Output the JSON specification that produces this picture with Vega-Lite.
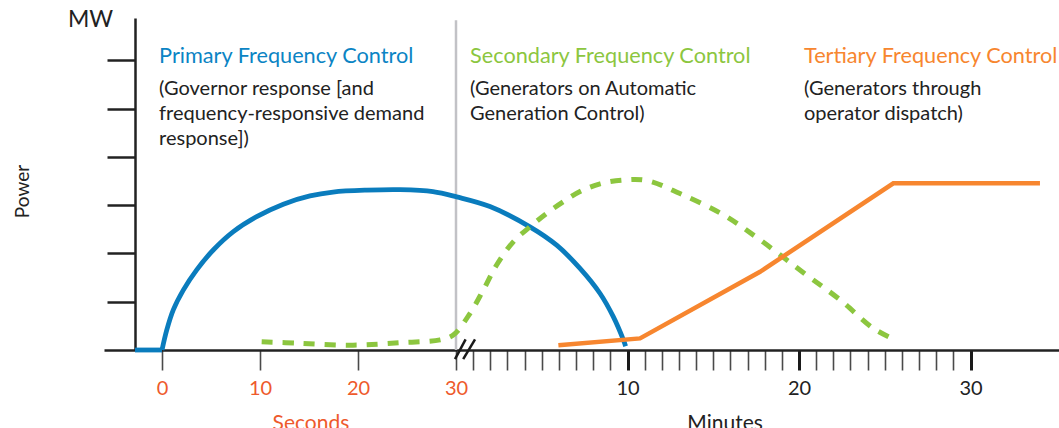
{
  "$schema": "https://vega.github.io/schema/vega-lite/v6.json",
  "autosize": "none",
  "width": 955,
  "height": 332,
  "padding": {"left": 104, "top": 18, "right": 0, "bottom": 78},
  "background": "white",
  "config": {"view": {"stroke": null}, "font": "Lato", "axis": {"labelOverlap": false, "labelFlush": false}},
  "datasets": {
    "lines": [
      {"series": "primary", "seg": "a", "x": -2.76, "y": 0},
      {"series": "primary", "seg": "a", "x": 0, "y": 0},
      {"series": "primary", "seg": "b", "x": 0, "y": 0},
      {"series": "primary", "seg": "b", "x": 0.48, "y": 0.41},
      {"series": "primary", "seg": "b", "x": 1.15, "y": 0.83},
      {"series": "primary", "seg": "b", "x": 2.17, "y": 1.24},
      {"series": "primary", "seg": "b", "x": 3.54, "y": 1.66},
      {"series": "primary", "seg": "b", "x": 5.23, "y": 2.07},
      {"series": "primary", "seg": "b", "x": 7.28, "y": 2.45},
      {"series": "primary", "seg": "b", "x": 9.66, "y": 2.76},
      {"series": "primary", "seg": "b", "x": 12.38, "y": 3.02},
      {"series": "primary", "seg": "b", "x": 15.1, "y": 3.19},
      {"series": "primary", "seg": "b", "x": 17.45, "y": 3.27},
      {"series": "primary", "seg": "b", "x": 20.89, "y": 3.31},
      {"series": "primary", "seg": "b", "x": 24.29, "y": 3.32},
      {"series": "primary", "seg": "b", "x": 27.65, "y": 3.28},
      {"series": "primary", "seg": "b", "x": 30.04, "y": 3.17},
      {"series": "primary", "seg": "b", "x": 31.98, "y": 2.97},
      {"series": "primary", "seg": "b", "x": 34.31, "y": 2.55},
      {"series": "primary", "seg": "b", "x": 35.87, "y": 2.17},
      {"series": "primary", "seg": "b", "x": 37.23, "y": 1.69},
      {"series": "primary", "seg": "b", "x": 38.4, "y": 1.17},
      {"series": "primary", "seg": "b", "x": 39.17, "y": 0.69},
      {"series": "primary", "seg": "b", "x": 39.76, "y": 0.21},
      {"series": "primary", "seg": "b", "x": 39.89, "y": 0.08},
      {"series": "secondary", "seg": "a", "x": 10.17, "y": 0.17},
      {"series": "secondary", "seg": "a", "x": 14.08, "y": 0.14},
      {"series": "secondary", "seg": "a", "x": 19.49, "y": 0.1},
      {"series": "secondary", "seg": "a", "x": 24.29, "y": 0.15},
      {"series": "secondary", "seg": "a", "x": 28.37, "y": 0.21},
      {"series": "secondary", "seg": "a", "x": 29.72, "y": 0.31},
      {"series": "secondary", "seg": "a", "x": 30.82, "y": 0.76},
      {"series": "secondary", "seg": "a", "x": 31.59, "y": 1.24},
      {"series": "secondary", "seg": "a", "x": 32.37, "y": 1.76},
      {"series": "secondary", "seg": "a", "x": 33.34, "y": 2.24},
      {"series": "secondary", "seg": "a", "x": 34.31, "y": 2.55},
      {"series": "secondary", "seg": "a", "x": 35.29, "y": 2.83},
      {"series": "secondary", "seg": "a", "x": 36.26, "y": 3.07},
      {"series": "secondary", "seg": "a", "x": 37.23, "y": 3.28},
      {"series": "secondary", "seg": "a", "x": 38.4, "y": 3.44},
      {"series": "secondary", "seg": "a", "x": 39.76, "y": 3.52},
      {"series": "secondary", "seg": "a", "x": 41.12, "y": 3.51},
      {"series": "secondary", "seg": "a", "x": 43.06, "y": 3.24},
      {"series": "secondary", "seg": "a", "x": 45.59, "y": 2.8},
      {"series": "secondary", "seg": "a", "x": 47.73, "y": 2.28},
      {"series": "secondary", "seg": "a", "x": 50.45, "y": 1.55},
      {"series": "secondary", "seg": "a", "x": 52.39, "y": 1.04},
      {"series": "secondary", "seg": "a", "x": 54.33, "y": 0.45},
      {"series": "secondary", "seg": "a", "x": 55.6, "y": 0.21},
      {"series": "tertiary", "seg": "a", "x": 35.97, "y": 0.1},
      {"series": "tertiary", "seg": "a", "x": 40.73, "y": 0.24},
      {"series": "tertiary", "seg": "a", "x": 47.73, "y": 1.62},
      {"series": "tertiary", "seg": "a", "x": 55.5, "y": 3.45},
      {"series": "tertiary", "seg": "a", "x": 64.05, "y": 3.45}
    ],
    "titles": [
      {"c": "primary", "x": -0.3, "y": 5.94, "text": "Primary Frequency Control"},
      {"c": "secondary", "x": 30.82, "y": 5.94, "text": "Secondary Frequency Control"},
      {"c": "tertiary", "x": 50.29, "y": 5.94, "text": "Tertiary Frequency Control"}
    ],
    "body": [
      {"x": -0.3, "y": 5.28, "text": "(Governor response [and"},
      {"x": -0.3, "y": 4.76, "text": "frequency-responsive demand"},
      {"x": -0.3, "y": 4.24, "text": "response])"},
      {"x": 30.82, "y": 5.28, "text": "(Generators on Automatic"},
      {"x": 30.82, "y": 4.76, "text": "Generation Control)"},
      {"x": 50.29, "y": 5.28, "text": "(Generators through"},
      {"x": 50.29, "y": 4.76, "text": "operator dispatch)"}
    ],
    "unit": [{"x": -9.6, "y": 6.69, "text": "MW"}],
    "axistitles": [
      {"c": "seconds", "x": 15.2, "y": -1.66, "text": "Seconds"},
      {"c": "dark", "x": 45.69, "y": -1.66, "text": "Minutes"}
    ],
    "divider": [{"x": 30, "y": 0, "y2": 6.83}],
    "breaks": [
      {"x": 29.9, "y": -0.19, "x2": 30.56, "y2": 0.22},
      {"x": 30.42, "y": -0.19, "x2": 31.11, "y2": 0.22}
    ]
  },
  "encoding": {
    "x": {
      "field": "x", "type": "quantitative",
      "scale": {"domain": [-5.92, 30, 65.16], "range": [0, 352, 955], "nice": false, "zero": false},
      "axis": {
        "values": [0, 10, 20, 30, 31, 32, 33, 34, 35, 36, 37, 38, 39, 40, 41, 42, 43, 44, 45, 46, 47, 48, 49, 50, 51, 52, 53, 54, 55, 56, 57, 58, 59, 60],
        "labelExpr": "datum.value <= 30 ? datum.value : (datum.value % 10 == 0 ? (datum.value - 30) : '')",
        "labelOverlap": false,
        "labelFlush": false,
        "labelFont": "Lato",
        "labelFontSize": 20,
        "labelPadding": 8,
        "labelColor": {"condition": {"test": "datum.value <= 30", "value": "#ee5a2c"}, "value": "#222222"},
        "tickSize": 20,
        "tickWidth": {"condition": {"test": "datum.value > 30 && datum.value % 10 == 0", "value": 3}, "value": 1.6},
        "tickColor": {"condition": {"test": "datum.value > 30 && datum.value % 10 == 0", "value": "#1a1a1a"}, "value": "#4a4a4a"},
        "domainColor": "#222222",
        "domainWidth": 2.5,
        "grid": false,
        "title": null
      }
    },
    "y": {
      "field": "y", "type": "quantitative",
      "scale": {"domain": [0, 6.874], "nice": false, "zero": false},
      "axis": {
        "values": [1, 2, 3, 4, 5, 6],
        "labels": false,
        "tickSize": 28,
        "tickWidth": 2.5,
        "tickColor": "#222222",
        "domainColor": "#222222",
        "domainWidth": 2.5,
        "offset": -31,
        "grid": false,
        "title": "Power",
        "titleFont": "Lato",
        "titleFontSize": 19,
        "titleFontWeight": "normal",
        "titleColor": "#222222",
        "titleX": -113,
        "titleY": 173,
        "titleAngle": -90,
        "titleAlign": "center",
        "titleBaseline": "middle"
      }
    }
  },
  "layer": [
    {
      "data": {"name": "divider"},
      "mark": {"type": "rule", "color": "#c2c2c6", "strokeWidth": 2.5},
      "encoding": {"y2": {"field": "y2"}}
    },
    {
      "data": {"name": "lines"},
      "transform": [{"filter": "datum.series == 'primary'"}],
      "mark": {"type": "line", "color": "#0a7cbd", "strokeWidth": 4.8, "interpolate": "catmull-rom", "strokeCap": "butt"},
      "encoding": {"detail": {"field": "seg"}}
    },
    {
      "data": {"name": "lines"},
      "transform": [{"filter": "datum.series == 'secondary'"}],
      "mark": {"type": "line", "color": "#8cc63f", "strokeWidth": 5, "interpolate": "catmull-rom", "strokeDash": [11, 10]},
      "encoding": {}
    },
    {
      "data": {"name": "lines"},
      "transform": [{"filter": "datum.series == 'tertiary'"}],
      "mark": {"type": "line", "color": "#f7862f", "strokeWidth": 4.5, "interpolate": "linear"},
      "encoding": {}
    },
    {
      "data": {"name": "breaks"},
      "mark": {"type": "rule", "color": "#1a1a1a", "strokeWidth": 2.5},
      "encoding": {"x2": {"field": "x2"}, "y2": {"field": "y2"}}
    },
    {
      "data": {"name": "titles"},
      "mark": {"type": "text", "font": "Lato", "fontSize": 21.7, "align": "left", "baseline": "alphabetic"},
      "encoding": {
        "text": {"field": "text"},
        "color": {
          "field": "c", "type": "nominal", "legend": null,
          "scale": {"domain": ["primary", "secondary", "tertiary", "seconds", "dark"], "range": ["#0b84c4", "#8cc63f", "#f7862f", "#ee5a2c", "#222222"]}
        }
      }
    },
    {
      "data": {"name": "body"},
      "mark": {"type": "text", "font": "Lato", "fontSize": 20, "align": "left", "baseline": "alphabetic", "color": "#222222"},
      "encoding": {"text": {"field": "text"}}
    },
    {
      "data": {"name": "unit"},
      "mark": {"type": "text", "font": "Lato", "fontSize": 23, "align": "left", "baseline": "alphabetic", "color": "#222222"},
      "encoding": {"text": {"field": "text"}}
    },
    {
      "data": {"name": "axistitles"},
      "mark": {"type": "text", "font": "Lato", "fontSize": 21, "align": "center", "baseline": "alphabetic"},
      "encoding": {
        "text": {"field": "text"},
        "color": {"field": "c", "type": "nominal", "legend": null}
      }
    }
  ]
}
